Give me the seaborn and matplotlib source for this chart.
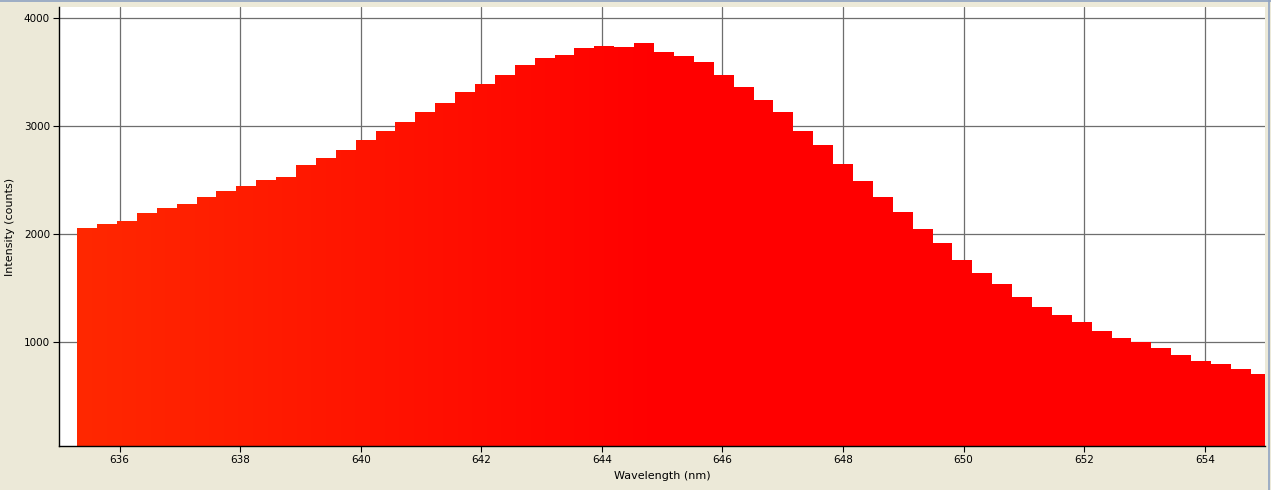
import numpy as np
import matplotlib
matplotlib.use("Agg")
import matplotlib.pyplot as plt
from matplotlib.lines import Line2D
import seaborn as sns

# Spectrum bins (bar centres, nm) and intensities
wavelength = [
    635.46, 635.79, 636.12, 636.45, 636.78, 637.11, 637.44, 637.77, 638.10, 638.43,
    638.76, 639.09, 639.42, 639.75, 640.08, 640.41, 640.74, 641.07, 641.40, 641.73,
    642.06, 642.39, 642.72, 643.05, 643.38, 643.71, 644.04, 644.37, 644.70, 645.03,
    645.36, 645.69, 646.02, 646.35, 646.68, 647.01, 647.34, 647.67, 648.00, 648.33,
    648.66, 648.99, 649.32, 649.65, 649.98, 650.31, 650.64, 650.97, 651.30, 651.63,
    651.96, 652.29, 652.62, 652.95, 653.28, 653.61, 653.94, 654.27, 654.60, 654.93,
]
counts = [
    2057, 2094, 2122, 2196, 2242, 2279, 2344, 2400, 2446, 2501,
    2532, 2640, 2708, 2779, 2871, 2955, 3038, 3130, 3214, 3315,
    3389, 3473, 3565, 3630, 3658, 3722, 3741, 3732, 3769, 3685,
    3648, 3593, 3473, 3362, 3241, 3130, 2955, 2825, 2649, 2492,
    2344, 2205, 2048, 1919, 1761, 1641, 1539, 1419, 1327, 1253,
    1188, 1104, 1040, 1003, 947, 883, 827, 799, 753, 707,
]
bin_width = 0.33
x_ticks = [636, 638, 640, 642, 644, 646, 648, 650, 652, 654]
y_ticks = [1000, 2000, 3000, 4000]

bg = "#ECE9D8"

sns.set_theme(style="whitegrid")
plt.rcParams['font.family'] = ['DejaVu Sans']
plt.rcParams['text.color'] = 'black'
plt.rcParams['axes.labelcolor'] = 'black'
plt.rcParams['xtick.color'] = 'black'
plt.rcParams['ytick.color'] = 'black'

fig = plt.figure(figsize=(12.71, 4.90), dpi=100, facecolor=bg)
ax = fig.add_axes([0.0467, 0.0898, 0.9486, 0.8959])
ax.set_facecolor("white")

edges = [w - bin_width / 2 for w in wavelength] + [wavelength[-1] + bin_width / 2]
sns.histplot(x=wavelength, weights=counts, bins=edges, element="step",
             fill=True, linewidth=0, color="red", alpha=1, ax=ax)

ax.set_xlim(635.0, 655.0)
ax.set_ylim(41, 4102)

# swap the flat fill for a horizontal orange-red -> red gradient
poly = ax.collections[0]
path = poly.get_paths()[0]
poly.set_facecolor("none")
for ln in ax.lines:
    ln.set_visible(False)

xs = np.linspace(635.0, 655.0, 800)
t = np.clip((645.0 - xs) / (645.0 - 635.3), 0, 1)
grad = np.zeros((1, len(xs), 3))
grad[..., 0] = 1.0
grad[..., 1] = t * 40 / 255
im = ax.imshow(grad, extent=(635.0, 655.0, 41, 4102), aspect="auto",
               interpolation="bilinear", zorder=1)
im.set_clip_path(path, ax.transData)

ax.set_xticks(x_ticks)
ax.set_yticks(y_ticks)
ax.set_axisbelow(True)
ax.grid(True, color="#6E6E6E", linewidth=0.9)
ax.tick_params(axis="both", which="major", direction="out", length=4.3,
               width=0.8, color="black", labelcolor="black", labelsize=7.5,
               pad=2.5, bottom=True, left=True)

for side in ["top", "right"]:
    ax.spines[side].set_visible(False)
for side in ["left", "bottom"]:
    ax.spines[side].set_color("black")
    ax.spines[side].set_linewidth(1.0)
    ax.spines[side].set_zorder(5)

ax.set_xlabel("Wavelength (nm)", fontsize=8, labelpad=4, color="black")
ax.set_ylabel("Intensity (counts)", fontsize=8, labelpad=6, color="black")

# thin window-style border along the top and right
fig.add_artist(Line2D([0, 1], [0.998, 0.998], transform=fig.transFigure,
                      color="#8FA3C2", linewidth=1.2))
fig.add_artist(Line2D([0.9985, 0.9985], [0, 1], transform=fig.transFigure,
                      color="#8FA3C2", linewidth=1.2))

fig.savefig("out.png", dpi=100, facecolor=bg)
